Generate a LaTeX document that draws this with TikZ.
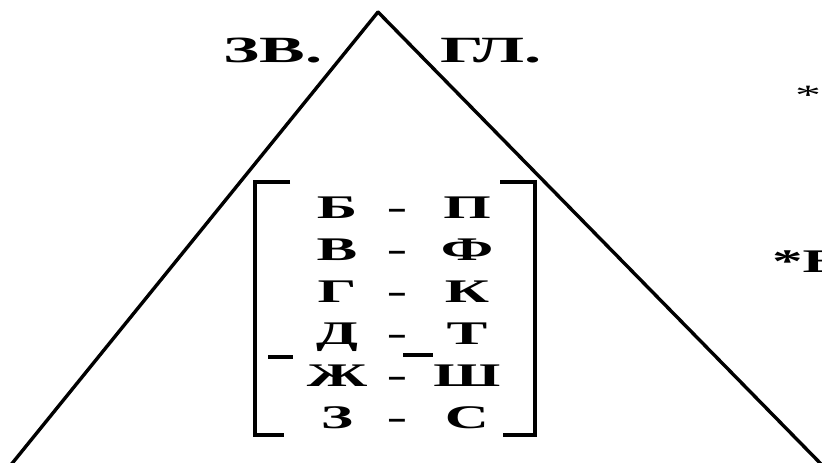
\documentclass[tikz,border=0pt]{standalone}
\usepackage{fontspec}
\setmainfont{Liberation Serif}
\usepackage{tikz}
\usetikzlibrary{positioning}

\newcommand{\wide}[1]{\scalebox{1.85}[1]{#1}}

\begin{document}
\begin{tikzpicture}[
        x=1pt, y=1pt,
        side/.style={line width=3.4pt, line cap=round},
        brack/.style={line width=3.4pt},
        letter/.style={inner sep=0pt, anchor=base, font=\bfseries\fontsize{33}{36}\selectfont},
        label/.style={inner sep=0pt, anchor=base, font=\bfseries\fontsize{37}{40}\selectfont},
        note/.style={inner sep=0pt, anchor=base west, font=\bfseries\fontsize{33}{36}\selectfont}
        ]
        \useasboundingbox (0,0) rectangle (822,-463);
        % triangle
        \coordinate (top) at (378,-12);
        \coordinate (bl) at (10,-466);
        \coordinate (br) at (823,-466);
        \draw[side] (top) -- (bl);
        \draw[side] (top) -- (br);
        \node[label] (zv) at (273,-62) {\wide{ЗВ.}};
        \node[label] (gl) at (491,-62) {\wide{ГЛ.}};
        % pairs
        \foreach \l/\r [count=\i] in {Б/П, В/Ф, Г/К, Д/Т, Ж/Ш, З/С} {
            \node[letter] (l\i) at (337,{-218-42*(\i-1)}) {\wide{\l}};
            \node[letter] (d\i) at (397,{-218-42*(\i-1)}) {\wide{-}};
            \node[letter] (r\i) at (467,{-218-42*(\i-1)}) {\wide{\r}};
        }
        % brackets
        \draw[brack] (290,-182) -- (255,-182) -- (255,-435) -- (284,-435);
        \draw[brack] (500,-182) -- (535,-182) -- (535,-435) -- (503,-435);
        \draw[brack] (268,-357) -- (293,-357);
        \draw[brack] (403,-355) -- (433,-355);
        % right margin
        \node[note, font=\fontsize{28}{30}\selectfont] (s1) at (795,-104) {\wide{*}};
        \node[note] (s2) at (772,-272) {\wide{*Б}};
    \end{tikzpicture}
\end{document}
